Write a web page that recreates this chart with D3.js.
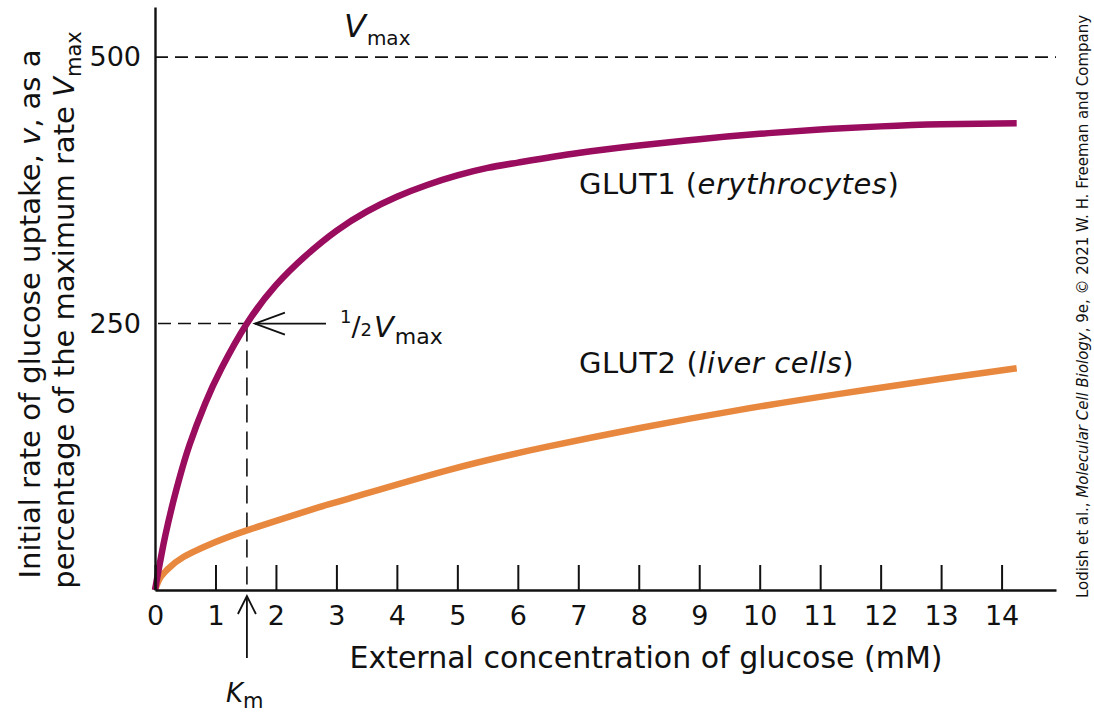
<!DOCTYPE html>
<html>
<head>
<meta charset="utf-8">
<script src="https://cdn.jsdelivr.net/npm/d3@7"></script>
<style>
    body { margin: 0; background: #fff; }
    svg text { font-family: "DejaVu Sans", "Liberation Sans", sans-serif; fill: #111; }
</style>
</head>
<body>
<div id="svg_div"></div>
<script>
// Glucose concentration (mM) and uptake rate
var glut1Conc = [0, 0.06, 0.11, 0.17, 0.28, 0.4, 0.57, 0.83, 1.1, 1.52, 2.0, 2.5, 3.0, 3.5, 4.0, 4.5, 5.0, 5.5, 6.0, 7.0, 8.0, 9.0, 10.0, 11.0, 12.0, 13.0, 14.25];
var glut1Rate = [0, 19, 34, 51, 78, 104, 136, 175, 208, 250, 286, 314, 337, 355, 369, 380, 389, 396, 401, 410, 417, 423, 428, 432, 435, 437, 438];

var glut2Conc = [0, 0.08, 0.2, 0.47, 1.0, 1.52, 2.56, 3.22, 4.88, 6.45, 8.02, 9.67, 11.32, 12.98, 14.25];
var glut2Rate = [0, 11, 19, 31, 45, 56, 75, 86, 113, 134, 152, 169, 184, 198, 208];

var xTicks = [0, 1, 2, 3, 4, 5, 6, 7, 8, 9, 10, 11, 12, 13, 14];
var yTicks = [250, 500];
var vmax = 500;
var km = 1.52;

var svg = d3.select("#svg_div").append("svg").attr("width", 1094).attr("height", 724);
svg.append("rect").attr("width", 1094).attr("height", 724).attr("fill", "#fff");

// Scales
var xScale = d3.scaleLinear().domain([0, 14.9]).range([155, 1056]);
var yScale = d3.scaleLinear().domain([0, 547]).range([590, 7]);

// Dashed guide lines
svg.append("line")
    .attr("x1", xScale(0)).attr("x2", xScale(14.9))
    .attr("y1", yScale(vmax)).attr("y2", yScale(vmax))
    .attr("stroke", "#111").attr("stroke-width", 1.6).attr("stroke-dasharray", "13,7");
svg.append("line")
    .attr("x1", xScale(0) + 3).attr("x2", xScale(km))
    .attr("y1", yScale(vmax / 2)).attr("y2", yScale(vmax / 2))
    .attr("stroke", "#111").attr("stroke-width", 1.6).attr("stroke-dasharray", "13,7");
svg.append("line")
    .attr("x1", xScale(km)).attr("x2", xScale(km))
    .attr("y1", yScale(vmax / 2)).attr("y2", yScale(0) - 3)
    .attr("stroke", "#111").attr("stroke-width", 1.6).attr("stroke-dasharray", "18,9");

// Curves
var line = d3.line()
    .x(function(d) { return xScale(d[0]); })
    .y(function(d) { return yScale(d[1]); })
    .curve(d3.curveNatural);

svg.append("path")
    .datum(d3.zip(glut2Conc, glut2Rate))
    .attr("d", line)
    .attr("fill", "none")
    .attr("stroke", "#e8883f")
    .attr("stroke-width", 6.5);

svg.append("path")
    .datum(d3.zip(glut1Conc, glut1Rate))
    .attr("d", line)
    .attr("fill", "none")
    .attr("stroke", "#990c5e")
    .attr("stroke-width", 6.5);

// Axes
var xAxis = d3.axisBottom(xScale)
    .tickValues(xTicks)
    .tickSizeInner(-25)
    .tickSizeOuter(0)
    .tickPadding(16);
var xAxisG = svg.append("g")
    .attr("transform", "translate(0," + yScale(0) + ")")
    .call(xAxis);
xAxisG.selectAll("line").attr("stroke", "#111").attr("stroke-width", 2);
xAxisG.select(".domain").attr("stroke", "#111").attr("stroke-width", 2.4);
xAxisG.selectAll("text").attr("font-size", 27).attr("fill", "#111")
    .attr("font-family", "DejaVu Sans");

var yAxis = d3.axisLeft(yScale)
    .tickValues(yTicks)
    .tickSize(0)
    .tickPadding(14);
var yAxisG = svg.append("g")
    .attr("transform", "translate(" + xScale(0) + ",0)")
    .call(yAxis);
yAxisG.select(".domain").attr("stroke", "#111").attr("stroke-width", 2.4);
yAxisG.selectAll("text").attr("font-size", 27).attr("fill", "#111")
    .attr("font-family", "DejaVu Sans");

// Axis titles
svg.append("text")
    .attr("x", 646).attr("y", 668)
    .attr("text-anchor", "middle")
    .attr("font-size", 30)
    .text("External concentration of glucose (mM)");

var yTitle1 = svg.append("text")
    .attr("transform", "translate(40,314) rotate(-90)")
    .attr("text-anchor", "middle")
    .attr("font-size", 29);
yTitle1.append("tspan").text("Initial rate of glucose uptake, ");
yTitle1.append("tspan").attr("font-style", "italic").text("v");
yTitle1.append("tspan").text(", as a");

var yTitle2 = svg.append("text")
    .attr("transform", "translate(74,310) rotate(-90)")
    .attr("text-anchor", "middle")
    .attr("font-size", 29);
yTitle2.append("tspan").text("percentage of the maximum rate ");
yTitle2.append("tspan").attr("font-style", "italic").text("V");
yTitle2.append("tspan").attr("font-size", 21).attr("dy", 7).text("max");

// Vmax label
var vmaxLabel = svg.append("text").attr("x", 344).attr("y", 37);
vmaxLabel.append("tspan").attr("font-style", "italic").attr("font-size", 32).text("V");
vmaxLabel.append("tspan").attr("font-size", 20).attr("dy", 8).attr("dx", 1).text("max");

// Half Vmax arrow and label
svg.append("line")
    .attr("x1", xScale(km) + 8).attr("x2", 326)
    .attr("y1", yScale(vmax / 2)).attr("y2", yScale(vmax / 2))
    .attr("stroke", "#111").attr("stroke-width", 1.8);
svg.append("path")
    .attr("d", "M" + (xScale(km) + 38) + "," + (yScale(vmax / 2) - 11) +
        "L" + (xScale(km) + 8) + "," + yScale(vmax / 2) +
        "L" + (xScale(km) + 38) + "," + (yScale(vmax / 2) + 11))
    .attr("fill", "none").attr("stroke", "#111").attr("stroke-width", 1.8);

var halfLabel = svg.append("text").attr("x", 340).attr("y", 323);
halfLabel.append("tspan").attr("font-size", 18).text("1");
halfLabel.append("tspan").attr("font-size", 27).attr("dy", 13).text("/");
halfLabel.append("tspan").attr("font-size", 18).text("2");
halfLabel.append("tspan").attr("font-style", "italic").attr("font-size", 29).attr("dy", 1).attr("dx", 2).text("V");
halfLabel.append("tspan").attr("font-size", 22).attr("dy", 7).attr("dx", 1).text("max");

// Km arrow and label
svg.append("line")
    .attr("x1", xScale(km)).attr("x2", xScale(km))
    .attr("y1", 597).attr("y2", 658)
    .attr("stroke", "#111").attr("stroke-width", 1.8);
svg.append("path")
    .attr("d", "M" + (xScale(km) - 9) + ",614L" + xScale(km) + ",596L" + (xScale(km) + 9) + ",614")
    .attr("fill", "none").attr("stroke", "#111").attr("stroke-width", 1.8);

var kmLabel = svg.append("text").attr("x", 226).attr("y", 702);
kmLabel.append("tspan").attr("font-style", "italic").attr("font-size", 26).text("K");
kmLabel.append("tspan").attr("font-size", 21).attr("dy", 6).text("m");

// Series labels
var g1Label = svg.append("text").attr("x", 579).attr("y", 194)
    .attr("font-size", 29).attr("letter-spacing", 0.5);
g1Label.append("tspan").text("GLUT1 (");
g1Label.append("tspan").attr("font-style", "italic").text("erythrocytes");
g1Label.append("tspan").text(")");

var g2Label = svg.append("text").attr("x", 579).attr("y", 373)
    .attr("font-size", 29).attr("letter-spacing", 0.6);
g2Label.append("tspan").text("GLUT2 (");
g2Label.append("tspan").attr("font-style", "italic").text("liver cells");
g2Label.append("tspan").text(")");

// Credit line
var credit = svg.append("text")
    .attr("transform", "translate(1088,598) rotate(-90)")
    .attr("font-family", "Liberation Sans Narrow, Liberation Sans, sans-serif")
    .attr("font-size", 15)
    .attr("textLength", 583)
    .attr("lengthAdjust", "spacingAndGlyphs");
credit.append("tspan").text("Lodish et al., ");
credit.append("tspan").attr("font-style", "italic").text("Molecular Cell Biology");
credit.append("tspan").text(", 9e, \u00a9 2021 W. H. Freeman and Company");
</script>
</body>
</html>
